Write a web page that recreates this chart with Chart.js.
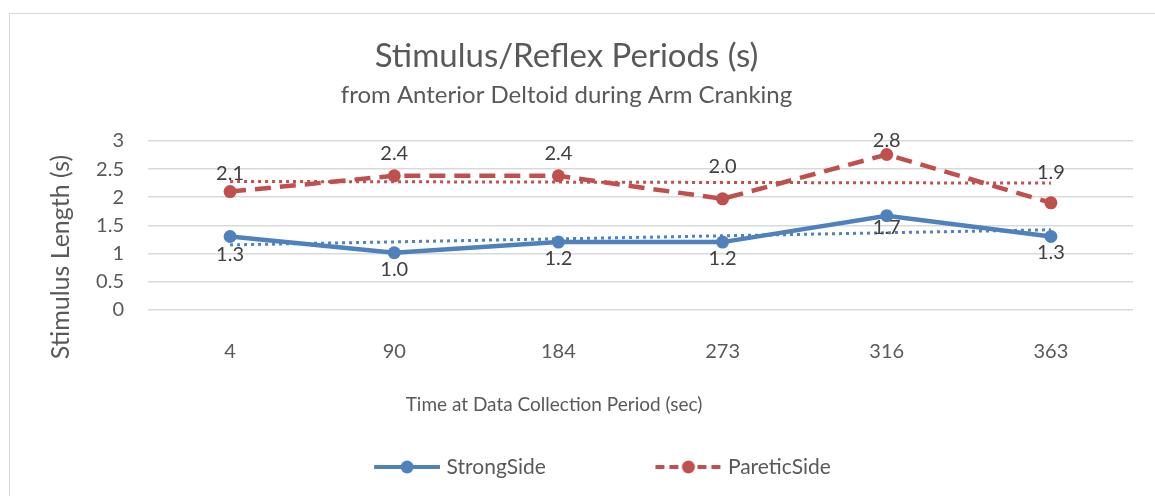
<!DOCTYPE html>
<html>
<head>
<meta charset="utf-8">
<script src="https://cdn.jsdelivr.net/npm/chart.js"></script>
<style>
  html, body { margin: 0; padding: 0; background: #fff; }
  #wrap { position: relative; width: 1155px; height: 496px; overflow: hidden; }
  #frame { position: absolute; left: 9px; top: 13px; width: 1200px; height: 600px; border: 1px solid #d9d9d9; box-sizing: border-box; }
  canvas { position: absolute; left: 0; top: 0; }
</style>
</head>
<body>
<div id="wrap">
  <div id="frame"></div>
  <canvas id="chart" width="1155" height="496"></canvas>
</div>
<script>
// Chart data
const categories = ['4', '90', '184', '273', '316', '363'];
const strongSide = [1.30, 1.01, 1.20, 1.20, 1.67, 1.30];
const pareticSide = [2.10, 2.38, 2.38, 1.97, 2.76, 1.90];
// linear trendlines: start and end only
const strongTrend = [1.15, null, null, null, null, 1.42];
const pareticTrend = [2.28, null, null, null, null, 2.25];
const yTicks = [0, 0.5, 1, 1.5, 2, 2.5, 3];

// label nudges in px (strong below the point, paretic above)
const strongLabelGap = [18, 17, 16, 16, 12, 16];
const pareticLabelGap = [18, 22, 22, 32, 14, 30];

const FONT = 'Lato, "Liberation Sans", sans-serif';
const TEXT = '#595959';
const BLUE = '#4f81bd';
const RED = '#c0504d';

// legend symbol: line with a marker, blank lead-in on the left for spacing
function legendSymbol(color, dash) {
    const c = document.createElement('canvas');
    c.width = 142;
    c.height = 16;
    const ctx = c.getContext('2d');
    ctx.strokeStyle = color;
    ctx.lineWidth = 4;
    ctx.setLineDash(dash);
    ctx.beginPath();
    ctx.moveTo(76, 8);
    ctx.lineTo(142, 8);
    ctx.stroke();
    ctx.fillStyle = color;
    ctx.beginPath();
    ctx.arc(109, 8, 6.5, 0, Math.PI * 2);
    ctx.fill();
    return c;
}

// data labels and axis titles
const labelPlugin = {
    id: 'labels',
    afterDatasetsDraw(chart) {
        const ctx = chart.ctx;
        ctx.save();
        ctx.font = '20px ' + FONT;
        ctx.fillStyle = '#404040';
        ctx.textAlign = 'center';
        ctx.textBaseline = 'middle';
        [0, 1].forEach(di => {
            const meta = chart.getDatasetMeta(di);
            const vals = chart.data.datasets[di].data;
            meta.data.forEach((pt, i) => {
                const dy = di === 0 ? strongLabelGap[i] : -pareticLabelGap[i];
                ctx.fillText(vals[i].toFixed(1), pt.x, pt.y + dy);
            });
        });
        ctx.restore();
    },
    afterDraw(chart) {
        const ctx = chart.ctx;
        ctx.save();
        ctx.fillStyle = TEXT;
        ctx.textAlign = 'center';
        ctx.textBaseline = 'middle';
        ctx.font = '19px ' + FONT;
        ctx.fillText('Time at Data Collection Period (sec)', 554, 405);
        ctx.translate(61, 257);
        ctx.rotate(-Math.PI / 2);
        ctx.font = '25px ' + FONT;
        ctx.fillText('Stimulus Length (s)', 0, 0);
        ctx.restore();
    }
};

new Chart(document.getElementById('chart').getContext('2d'), {
    type: 'line',
    data: {
        labels: categories,
        datasets: [
            {
                label: 'StrongSide',
                data: strongSide,
                borderColor: BLUE,
                backgroundColor: BLUE,
                borderWidth: 4.5,
                pointRadius: 6.5,
                pointHoverRadius: 6.5,
                pointBorderWidth: 0,
                order: 1
            },
            {
                label: 'PareticSide',
                data: pareticSide,
                borderColor: RED,
                backgroundColor: RED,
                borderWidth: 4.5,
                borderDash: [16, 9],
                pointRadius: 6.5,
                pointHoverRadius: 6.5,
                pointBorderWidth: 0,
                order: 1
            },
            {
                label: 'trend1',
                data: strongTrend,
                borderColor: BLUE,
                borderWidth: 3,
                borderDash: [3, 4],
                pointRadius: 0,
                spanGaps: true,
                order: 0
            },
            {
                label: 'trend2',
                data: pareticTrend,
                borderColor: RED,
                borderWidth: 3,
                borderDash: [3, 4],
                pointRadius: 0,
                spanGaps: true,
                order: 0
            }
        ]
    },
    options: {
        responsive: false,
        animation: false,
        events: [],
        layout: {
            padding: { left: 0, right: 22, top: 0, bottom: 8.5 }
        },
        scales: {
            x: {
                offset: true,
                grid: { display: false, drawTicks: false },
                border: { display: false },
                ticks: { color: TEXT, font: { family: FONT, size: 20 }, padding: 30, maxRotation: 0 },
                afterFit: scale => { scale.height = 109.5; }
            },
            y: {
                min: 0,
                max: 3,
                afterBuildTicks: scale => { scale.ticks = yTicks.map(v => ({ value: v })); },
                grid: { color: '#d9d9d9', lineWidth: 1.5, drawTicks: false },
                border: { display: false },
                ticks: { color: TEXT, font: { family: FONT, size: 20 }, padding: 24, autoSkip: false, callback: v => String(v) },
                afterFit: scale => { scale.width = 148; }
            }
        },
        plugins: {
            title: {
                display: true,
                text: 'Stimulus/Reflex Periods (s)',
                color: TEXT,
                font: { family: FONT, size: 33, weight: 'normal' },
                padding: { top: 37, bottom: 4 }
            },
            subtitle: {
                display: true,
                text: 'from Anterior Deltoid during Arm Cranking',
                color: TEXT,
                font: { family: FONT, size: 24 },
                padding: { top: 0, bottom: 31.6 }
            },
            legend: {
                position: 'bottom',
                labels: {
                    color: TEXT,
                    font: { family: FONT, size: 21 },
                    usePointStyle: true,
                    pointStyleWidth: 134,
                    padding: 37.5,
                    filter: item => item.datasetIndex < 2,
                    generateLabels: chart => [
                        { text: 'StrongSide', pointStyle: legendSymbol(BLUE, []), fontColor: TEXT, datasetIndex: 0, lineWidth: 0 },
                        { text: 'PareticSide', pointStyle: legendSymbol(RED, [9, 5]), fontColor: TEXT, datasetIndex: 1, lineWidth: 0 }
                    ]
                }
            },
            tooltip: { enabled: false }
        }
    },
    plugins: [labelPlugin]
});
</script>
</body>
</html>
